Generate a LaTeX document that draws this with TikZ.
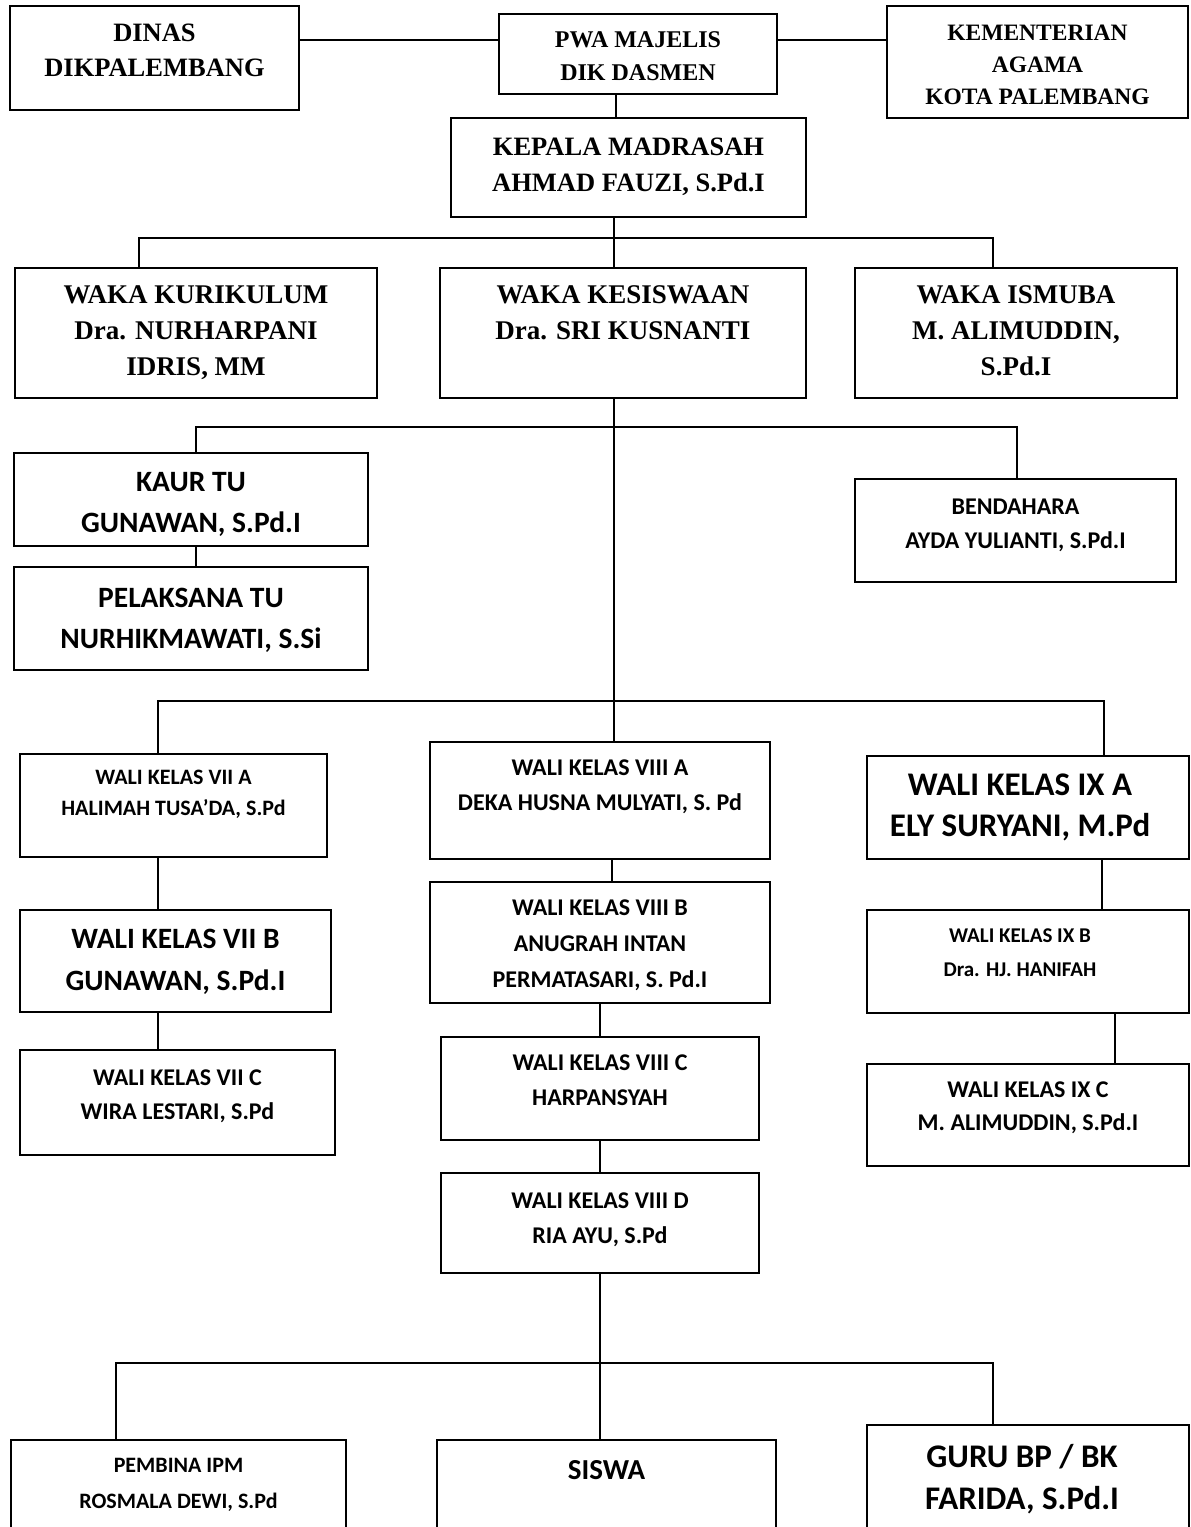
\documentclass[tikz,border=0pt]{standalone}
\usepackage{fontspec}
\setmainfont{Liberation Serif}
\newfontfamily\calibri{Carlito}
\newcommand\fz[2]{\fontsize{#1}{#2}\selectfont}
\newcommand\bx[5]{\node[box, minimum width={(#4-#2)*1pt}, minimum height={(#5-#3)*1pt}] (#1) at (#2,#3) {};}
\begin{document}
\begin{tikzpicture}[x=1pt,y=-1pt,
 box/.style={draw, line width=1.6pt, inner sep=0pt, outer sep=0pt, anchor=north west},
 conn/.style={line width=1.3pt},
 tm/.style={anchor=north, align=center, inner sep=0pt},
]
\useasboundingbox[fill=white] (0,0) rectangle (1191,1527);
% boxes
\bx{dinas}{10}{6}{299}{110}
\bx{pwa}{499}{14}{777}{94}
\bx{kem}{887}{6}{1188}{118}
\bx{kepala}{451}{118}{806}{217}
\bx{kur}{15}{268}{377}{398}
\bx{kes}{440}{268}{806}{398}
\bx{ism}{855}{268}{1177}{398}
\bx{kaur}{14}{453}{368}{546}
\bx{pel}{14}{567}{368}{670}
\bx{bend}{855}{479}{1176}{582}
\bx{vsa}{20}{754}{327}{857}
\bx{vsb}{20}{910}{331}{1012}
\bx{vsc}{20}{1050}{335}{1155}
\bx{vea}{430}{742}{770}{859}
\bx{veb}{430}{882}{770}{1003}
\bx{vec}{441}{1037}{759}{1140}
\bx{ved}{441}{1173}{759}{1273}
\bx{vna}{867}{756}{1189}{859}
\bx{vnb}{867}{910}{1189}{1013}
\bx{vnc}{867}{1064}{1189}{1166}
\bx{pemb}{11}{1440}{346}{1560}
\bx{siswa}{437}{1440}{776}{1560}
\bx{guru}{867}{1425}{1189}{1560}
% texts
\node[tm, font=\bfseries\fz{26.5}{35.5}] at (dinas.north |- 0,23.7) {DINAS\\DIKPALEMBANG};
\node[tm, font=\bfseries\fz{24}{32.5}] at (pwa.north |- 0,31.5) {PWA MAJELIS\\DIK DASMEN};
\node[tm, font=\bfseries\fz{23.5}{32}] at (kem.north |- 0,25) {KEMENTERIAN\\AGAMA\\KOTA PALEMBANG};
\node[tm, font=\bfseries\fz{26.5}{36}] at (kepala.north |- 0,138) {KEPALA MADRASAH\\AHMAD FAUZI, S.Pd.I};
\node[tm, font=\bfseries\fz{27}{36}] at (kur.north |- 0,285) {WAKA KURIKULUM\\Dra. NURHARPANI\\IDRIS, MM};
\node[tm, font=\bfseries\fz{27}{36}] at (kes.north |- 0,285) {WAKA KESISWAAN\\Dra. SRI KUSNANTI};
\node[tm, font=\bfseries\fz{27}{36}] at (ism.north |- 0,285) {WAKA ISMUBA\\M. ALIMUDDIN,\\S.Pd.I};
\node[tm, font=\calibri\bfseries\fz{29.5}{41}] at (kaur.north |- 0,472.5) {KAUR TU\\GUNAWAN, S.Pd.I};
\node[tm, font=\calibri\bfseries\fz{29.5}{41}] at (pel.north |- 0,588) {PELAKSANA TU\\NURHIKMAWATI, S.Si};
\node[tm, font=\calibri\bfseries\fz{24}{34}] at (bend.north |- 0,499) {BENDAHARA\\AYDA YULIANTI, S.Pd.I};
\node[tm, font=\calibri\bfseries\fz{22}{31}] at (vsa.north |- 0,770) {WALI KELAS VII A\\HALIMAH TUSA’DA, S.Pd};
\node[tm, font=\calibri\bfseries\fz{29.5}{42}] at (vsb.north |- 0,928.5) {WALI KELAS VII B\\GUNAWAN, S.Pd.I};
\node[tm, font=\calibri\bfseries\fz{24}{34}] at (vsc.north |- 0,1070) {WALI KELAS VII C\\WIRA LESTARI, S.Pd};
\node[tm, font=\calibri\bfseries\fz{24}{35}] at (vea.north |- 0,760) {WALI KELAS VIII A\\DEKA HUSNA MULYATI, S. Pd};
\node[tm, font=\calibri\bfseries\fz{24}{36}] at (veb.north |- 0,900) {WALI KELAS VIII B\\ANUGRAH INTAN\\PERMATASARI, S. Pd.I};
\node[tm, font=\calibri\bfseries\fz{24}{35}] at (vec.north |- 0,1055) {WALI KELAS VIII C\\HARPANSYAH};
\node[tm, font=\calibri\bfseries\fz{24}{35}] at (ved.north |- 0,1193) {WALI KELAS VIII D\\RIA AYU, S.Pd};
\node[tm, font=\calibri\bfseries\fz{33}{41}] at ([xshift=-8pt]vna.north |- 0,774) {WALI KELAS IX A\\ELY SURYANI, M.Pd};
\node[tm, font=\calibri\bfseries\fz{21}{34}] at ([xshift=-8pt]vnb.north |- 0,929) {WALI KELAS IX B\\Dra. HJ. HANIFAH};
\node[tm, font=\calibri\bfseries\fz{24}{33}] at (vnc.north |- 0,1082) {WALI KELAS IX C\\M. ALIMUDDIN, S.Pd.I};
\node[tm, font=\calibri\bfseries\fz{22}{36}] at (pemb.north |- 0,1458) {PEMBINA IPM\\ROSMALA DEWI, S.Pd};
\node[tm, font=\calibri\bfseries\fz{29}{36}] at (siswa.north |- 0,1460) {SISWA};
\node[tm, font=\calibri\bfseries\fz{33}{42}] at ([xshift=-6pt]guru.north |- 0,1444) {GURU BP / BK\\FARIDA, S.Pd.I};
% helper coordinates
\coordinate (top) at (638,40);
\coordinate (k1) at (616,0);
\coordinate (k2) at (614,0);
\coordinate (bar1) at (614,238);
\coordinate (bar2) at (614,427);
\coordinate (bar3) at (614,701);
\coordinate (bar4) at (600,1363);
\coordinate (d139) at (139,0);
\coordinate (d993) at (993,0);
\coordinate (d196) at (196,0);
\coordinate (d1017) at (1017,0);
\coordinate (d158) at (158,0);
\coordinate (d1104) at (1104,0);
\coordinate (d612) at (612,0);
\coordinate (d600) at (600,0);
\coordinate (d116) at (116,0);
\coordinate (d1102) at (1102,0);
\coordinate (d1115) at (1115,0);
% connectors
\draw[conn] (dinas.east |- top) -- (pwa.west |- top);
\draw[conn] (pwa.east |- top) -- (kem.west |- top);
\draw[conn] (pwa.south -| k1) -- (kepala.north -| k1);
\draw[conn] (kepala.south -| k2) -- (kes.north -| k2);
\draw[conn] (kur.north -| d139) |- (bar1) -| (ism.north -| d993);
\draw[conn] (kes.south -| k2) -- (vea.north -| k2);
\draw[conn] (kaur.north -| d196) |- (bar2) -| (bend.north -| d1017);
\draw[conn] (kaur.south -| d196) -- (pel.north -| d196);
\draw[conn] (vsa.north -| d158) |- (bar3) -| (vna.north -| d1104);
\draw[conn] (vsa.south -| d158) -- (vsb.north -| d158);
\draw[conn] (vsb.south -| d158) -- (vsc.north -| d158);
\draw[conn] (vea.south -| d612) -- (veb.north -| d612);
\draw[conn] (veb.south -| d600) -- (vec.north -| d600);
\draw[conn] (vec.south -| d600) -- (ved.north -| d600);
\draw[conn] (ved.south -| d600) -- (siswa.north -| d600);
\draw[conn] (pemb.north -| d116) |- (bar4) -| (guru.north -| d993);
\draw[conn] (vna.south -| d1102) -- (vnb.north -| d1102);
\draw[conn] (vnb.south -| d1115) -- (vnc.north -| d1115);
\end{tikzpicture}
\end{document}
